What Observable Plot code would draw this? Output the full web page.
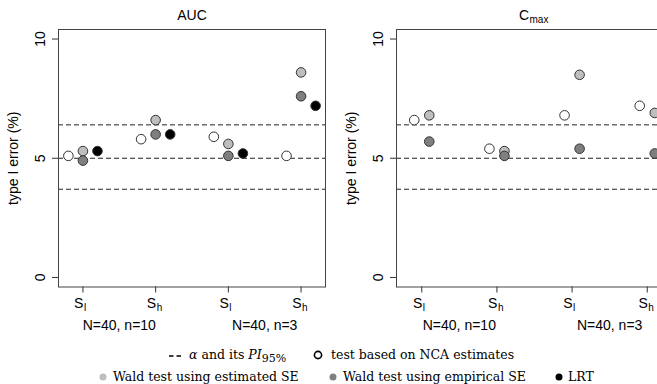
<!DOCTYPE html>
<html><head><meta charset="utf-8">
<script src="https://cdn.jsdelivr.net/npm/d3@7"></script>
<script src="https://cdn.jsdelivr.net/npm/@observablehq/plot@0.6"></script>
<style>
html,body{margin:0;padding:0;overflow:hidden;background:#fff;width:657px;height:384px}
#wrap{position:relative;width:657px;height:384px;overflow:hidden}
.leg{position:absolute;font-family:"DejaVu Serif",serif;font-size:12.5px;line-height:14px;white-space:nowrap;color:#000}
.sym{position:absolute}
</style></head><body><div id="wrap"></div>
<script>
// ---- data ----
const tickPos = [1, 2, 3, 4];
const tickMain = ["S", "S", "S", "S"];
const tickSub = ["l", "h", "l", "h"];
const groupLabels = ["N=40, n=10", "N=40, n=3"];
const groupCenters = [1.5, 3.5];
const piLines = [3.7, 5.0, 6.4];
const yTicks = [0, 5, 10];
const yLabel = "type I error (%)";

const aucNCA     = [5.1, 5.8, 5.9, 5.1];
const aucWaldEst = [5.3, 6.6, 5.6, 8.6];
const aucWaldEmp = [4.9, 6.0, 5.1, 7.6];
const aucLRT     = [5.3, 6.0, 5.2, 7.2];

const cmaxNCA     = [6.6, 5.4, 6.8, 7.2];
const cmaxWaldEst = [6.8, 5.3, 8.5, 6.9];
const cmaxWaldEmp = [5.7, 5.1, 5.4, 5.2];

const seriesNames = ["test based on NCA estimates", "Wald test using estimated SE", "Wald test using empirical SE", "LRT"];
const seriesFill = ["#ffffff", "#bebebe", "#7f7f7f", "#000000"];

// ---- drawing ----
const sans = "'Liberation Sans', Arial, Helvetica, sans-serif";
const wrap = document.getElementById("wrap");

function panel({title, titleSub, series, offsets, boxW, left}) {
  const data = [];
  series.forEach((vals, s) => {
    if (!vals) return;
    vals.forEach((v, i) => data.push({x: tickPos[i] + offsets[s], y: v, fill: seriesFill[s]}));
  });
  const ticks = tickPos.map((p, i) => ({p, main: tickMain[i], sub: tickSub[i]}));
  const groups = groupLabels.map((t, i) => ({t, c: groupCenters[i]}));
  const marks = [
    Plot.ruleY(piLines, {stroke: "#222", strokeWidth: 1, strokeDasharray: "5,3"}),
    Plot.dot(data, {x: "x", y: "y", r: 4.8, fill: "fill", stroke: "#333", strokeWidth: 1}),
    Plot.frame({stroke: "#444", strokeWidth: 1}),
    Plot.axisY({ticks: yTicks, tickSize: 6, tickFormat: () => "", label: null, stroke: "#333"}),
    Plot.text(yTicks, {y: d => d, text: d => String(d), frameAnchor: "left", dx: -18, rotate: -90, textAnchor: "middle", lineAnchor: "middle", fontSize: 14}),
    Plot.text([yLabel], {frameAnchor: "left", dx: -45, rotate: -90, textAnchor: "middle", lineAnchor: "middle", fontSize: 14}),
    Plot.axisX({ticks: tickPos, tickSize: 6, tickFormat: () => "", label: null, stroke: "#333"}),
    Plot.text(ticks, {x: "p", text: "main", frameAnchor: "bottom", dy: 17, dx: 0.5, textAnchor: "end", lineAnchor: "middle", fontSize: 14}),
    Plot.text(ticks, {x: "p", text: "sub", frameAnchor: "bottom", dy: 21, dx: 1, textAnchor: "start", lineAnchor: "middle", fontSize: 10}),
    Plot.text(groups, {x: "c", text: "t", frameAnchor: "bottom", dy: 38.5, lineAnchor: "middle", fontSize: 14})
  ];
  if (titleSub) {
    marks.push(Plot.text([title], {frameAnchor: "top", dy: -14, dx: -5.5, textAnchor: "end", lineAnchor: "middle", fontSize: 14}));
    marks.push(Plot.text([titleSub], {frameAnchor: "top", dy: -10, dx: -5, textAnchor: "start", lineAnchor: "middle", fontSize: 10}));
  } else {
    marks.push(Plot.text([title], {frameAnchor: "top", dy: -14, lineAnchor: "middle", fontSize: 14}));
  }
  const svg = Plot.plot({
    width: 58 + boxW + 5,
    height: 336,
    marginLeft: 58, marginRight: 5, marginTop: 29, marginBottom: 49.5,
    x: {domain: [0.664, 4.336], axis: null},
    y: {domain: [-0.4, 10.4], axis: null},
    style: {fontFamily: sans, fontSize: "14px", background: "transparent", color: "#000", overflow: "visible"},
    marks
  });
  svg.style.position = "absolute";
  svg.style.left = left + "px";
  svg.style.top = "0px";
  wrap.appendChild(svg);
}

panel({title: "AUC", series: [aucNCA, aucWaldEst, aucWaldEmp, aucLRT], offsets: [-0.2, 0, 0, 0.2], boxW: 267, left: 0});
panel({title: "C", titleSub: "max", series: [cmaxNCA, cmaxWaldEst, cmaxWaldEmp, null], offsets: [-0.1, 0.1, 0.1, 0], boxW: 276, left: 338});

// ---- legend ----
function sym(x, y, html) {
  const s = document.createElementNS("http://www.w3.org/2000/svg", "svg");
  s.setAttribute("class", "sym");
  s.setAttribute("width", 16); s.setAttribute("height", 12);
  s.style.left = (x - 8) + "px"; s.style.top = (y - 6) + "px";
  s.innerHTML = html;
  wrap.appendChild(s);
}
function label(x, top, html) {
  const d = document.createElement("div");
  d.className = "leg";
  d.style.left = x + "px"; d.style.top = top + "px";
  d.innerHTML = html;
  wrap.appendChild(d);
}
const row1 = 348, row2 = 370;
sym(176, row1 + 8, '<line x1="1" x2="15" y1="6" y2="6" stroke="#000" stroke-width="1.3" stroke-dasharray="4.5,3"/>');
label(189, row1, '<i>α</i> and its <i>PI</i><span style="font-size:11px;position:relative;top:3px">95%</span>');
sym(318, row1 + 7, '<circle cx="8" cy="6" r="3.6" fill="none" stroke="#000" stroke-width="1.6"/>');
label(331, row1, seriesNames[0]);
sym(103, row2 + 7, `<circle cx="8" cy="6" r="3.5" fill="${seriesFill[1]}"/>`);
label(113, row2, seriesNames[1]);
sym(333, row2 + 7, `<circle cx="8" cy="6" r="3.5" fill="${seriesFill[2]}"/>`);
label(343, row2, seriesNames[2]);
sym(559, row2 + 7, `<circle cx="8" cy="6" r="3.5" fill="${seriesFill[3]}"/>`);
label(568, row2, seriesNames[3]);
</script>
</body></html>
